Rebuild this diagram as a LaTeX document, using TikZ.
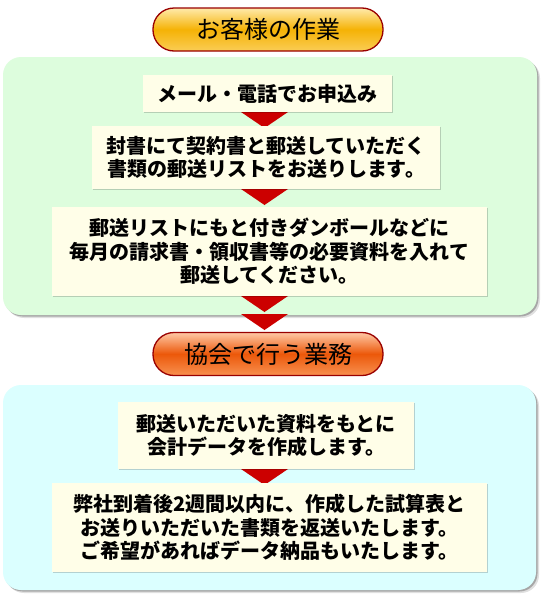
\documentclass[tikz,border=0pt]{standalone}
\usepackage{fontspec}
\newfontfamily\jp{Noto Sans CJK JP}
\usetikzlibrary{shadows}
\definecolor{greenp}{RGB}{221,253,221}
\definecolor{bluep}{RGB}{219,255,255}
\definecolor{boxfill}{RGB}{255,254,232}
\definecolor{trired}{RGB}{204,0,0}
\definecolor{pillborder}{RGB}{153,0,0}
\definecolor{goldtop}{RGB}{255,234,170}
\definecolor{goldmid}{RGB}{245,178,5}
\definecolor{goldbot}{RGB}{250,205,85}
\definecolor{orgtop}{RGB}{255,200,165}
\definecolor{orgmid}{RGB}{236,88,10}
\definecolor{orgbot}{RGB}{248,145,80}
\tikzset{
  panel/.style={rectangle, rounded corners=18pt, inner sep=0pt, outer sep=0pt,
    drop shadow={shadow xshift=3pt, shadow yshift=-3pt, fill=black, opacity=0.12},
    drop shadow={shadow xshift=1.5pt, shadow yshift=-1.5pt, fill=black, opacity=0.25}},
  pill/.style={rectangle, rounded corners=21pt, draw=pillborder, line width=1.3pt,
    minimum width=230pt, minimum height=43pt, inner sep=0pt,
    font=\jp\fontsize{24}{27}\selectfont, text=black},
  goldpill/.style={pill, top color=goldtop, bottom color=goldbot, middle color=goldmid},
  orgpill/.style={pill, top color=orgtop, bottom color=orgbot, middle color=orgmid},
  stepbox/.style={rectangle, fill=boxfill, inner sep=0pt, outer sep=0pt, align=center,
    font=\jp\bfseries\fontsize{20}{23.5}\selectfont,
    drop shadow={shadow xshift=1.2pt, shadow yshift=-1.2pt, fill=black, opacity=0.18}},
  tri/.style={fill=trired}
}
\newcommand\downtri[1]{\fill[tri] (#1) ++(-23.5,0) -- ++(47,0) -- ++(-23.5,16) -- cycle;}
\begin{document}
\begin{tikzpicture}[x=1pt,y=-1pt]
\useasboundingbox (0,0) rectangle (550,600);
\fill[white] (0,0) rectangle (550,600);

% header 1
\node[goldpill] (h1) at (268,29.5) {お客様の作業};

% green panel
\node[panel, fill=greenp, minimum width=534pt, minimum height=258pt] (gp) at (270,186) {};

% triangles in green panel
\coordinate (t1) at (264.5,112);
\coordinate (t2) at (264.5,189);
\coordinate (t3) at (264.5,296);
\coordinate (t4) at (264.5,314);
\coordinate (t5) at (264.5,469);
\downtri{t1}
\downtri{t2}
\downtri{t3}

\node[stepbox, minimum width=249pt, minimum height=37pt] (b1) at (267.5,93.5) {メール・電話でお申込み};
\node[stepbox, minimum width=348pt, minimum height=63pt] (b2) at (266,157.5) {封書にて契約書と郵送していただく\\書類の郵送リストをお送りします。};
\node[stepbox, minimum width=435pt, minimum height=89pt] (b3) at (269.5,251.5) {郵送リストにもと付きダンボールなどに\\毎月の請求書・領収書等の必要資料を入れて\\郵送してください。};

\downtri{t4}

% header 2
\node[orgpill] (h2) at (268,354) {協会で行う業務};

% blue panel
\node[panel, fill=bluep, minimum width=533pt, minimum height=205pt] (bp) at (269.5,487.5) {};

\downtri{t5}
\node[stepbox, minimum width=296pt, minimum height=67pt] (b4) at (266,435.5) {郵送いただいた資料をもとに\\会計データを作成します。};
\node[stepbox, minimum width=435pt, minimum height=89pt] (b5) at (269.5,527.5) {弊社到着後2週間以内に、作成した試算表と\\お送りいただいた書類を返送いたします。\\ご希望があればデータ納品もいたします。};
\end{tikzpicture}
\end{document}
